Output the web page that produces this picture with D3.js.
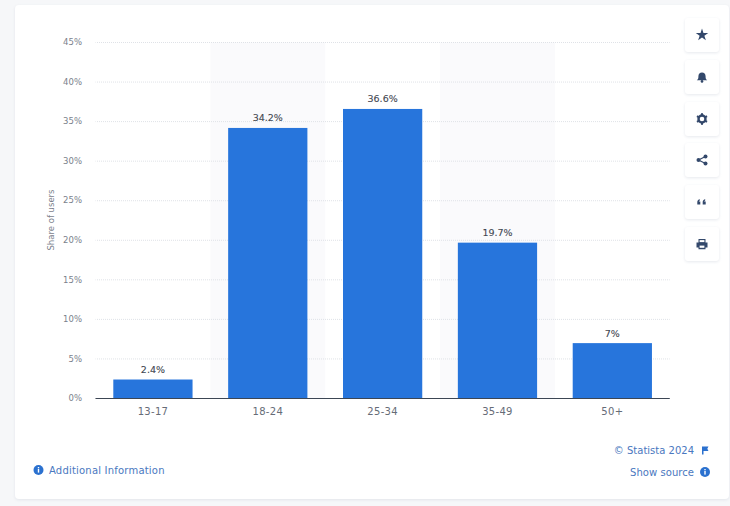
<!DOCTYPE html>
<html>
<head>
<meta charset="utf-8">
<script src="https://cdn.jsdelivr.net/npm/d3@7"></script>
<style>
    html, body { margin: 0; padding: 0; background: #f6f7f9; overflow: hidden; }
    svg { display: block; }
    text { font-family: 'DejaVu Sans', sans-serif; }
</style>
</head>
<body>
<svg id="chart" width="730" height="506"></svg>
<script>
const categories = ['13-17', '18-24', '25-34', '35-49', '50+'];
const shares = [2.4, 34.2, 36.6, 19.7, 7];
const shareLabels = ['2.4%', '34.2%', '36.6%', '19.7%', '7%'];
const yTicks = [0, 5, 10, 15, 20, 25, 30, 35, 40, 45];
const shadedCategories = ['18-24', '35-49'];

const PLOT_LEFT = 95.5;
const PLOT_RIGHT = 669.75;
const PLOT_TOP = 42.5;
const PLOT_BOTTOM = 398.5;
const BLUE = '#2775dc';
const LINK_BLUE = '#4a78c0';
const ICON_COLOR = '#33486b';

const svg = d3.select('#chart');

const x = d3.scaleBand().domain(categories).range([PLOT_LEFT, PLOT_RIGHT]).paddingInner(0.31).paddingOuter(0.155);
const y = d3.scaleLinear().domain([0, 45]).range([PLOT_BOTTOM, PLOT_TOP]);

// Soft shadow for the card and the side buttons
const shadow = svg.append('defs').append('filter')
    .attr('id', 'soft')
    .attr('x', '-20%').attr('y', '-20%')
    .attr('width', '140%').attr('height', '140%');
shadow.append('feDropShadow')
    .attr('dx', 0).attr('dy', 1)
    .attr('stdDeviation', 1.5)
    .attr('flood-color', '#c9ced8')
    .attr('flood-opacity', 0.45);

// Card behind the chart
svg.append('rect')
    .attr('x', 15).attr('y', 5)
    .attr('width', 714).attr('height', 494)
    .attr('rx', 4)
    .attr('fill', '#fff')
    .attr('filter', 'url(#soft)');

// Alternating column shading
const step = x.step();
svg.append('g')
    .selectAll('rect')
    .data(shadedCategories)
    .join('rect')
    .attr('x', (d) => x(d) + x.bandwidth() / 2 - step / 2)
    .attr('y', PLOT_TOP)
    .attr('width', step)
    .attr('height', PLOT_BOTTOM - PLOT_TOP)
    .attr('fill', '#fafafc');

// Y axis with dotted grid lines
const yAxis = svg.append('g')
    .attr('transform', `translate(${PLOT_LEFT},0)`)
    .call(d3.axisLeft(y).offset(0).tickValues(yTicks).tickFormat((d) => d + '%').tickSize(-(PLOT_RIGHT - PLOT_LEFT)).tickPadding(13.5));
yAxis.select('.domain').remove();
// The group sits on a half pixel, so the dash phase is shifted to keep the dots crisp
yAxis.selectAll('.tick line')
    .attr('stroke', '#dfe2e7')
    .attr('stroke-dasharray', '1 1')
    .attr('stroke-dashoffset', 0.5);
yAxis.selectAll('.tick text')
    .attr('fill', '#7b818c')
    .style('font-size', '8.5px')
    .style('font-family', "'DejaVu Sans', sans-serif");

svg.append('text')
    .attr('transform', 'translate(54,220) rotate(-90)')
    .attr('text-anchor', 'middle')
    .attr('fill', '#7b818c')
    .style('font-size', '8.5px')
    .text('Share of users');

// Bars
svg.append('g')
    .selectAll('rect')
    .data(categories)
    .join('rect')
    .attr('x', (d) => x(d))
    .attr('y', (d, i) => y(shares[i]))
    .attr('width', x.bandwidth())
    .attr('height', (d, i) => y(0) - y(shares[i]))
    .attr('fill', BLUE);

svg.append('g')
    .selectAll('text')
    .data(categories)
    .join('text')
    .attr('x', (d) => x(d) + x.bandwidth() / 2)
    .attr('y', (d, i) => y(shares[i]) - 6.5)
    .attr('text-anchor', 'middle')
    .attr('fill', '#3f4650')
    .attr('stroke', '#3f4650')
    .attr('stroke-width', 0.1)
    .style('font-size', '9.5px')
    .text((d, i) => shareLabels[i]);

// X axis
const xAxis = svg.append('g')
    .attr('transform', `translate(0,${PLOT_BOTTOM})`)
    .call(d3.axisBottom(x).offset(0).tickSize(0).tickPadding(9));
xAxis.select('.domain').attr('stroke', '#3c4654').attr('stroke-width', 1);
xAxis.selectAll('.tick text')
    .attr('fill', '#666c77')
    .style('font-size', '10px')
    .style('letter-spacing', '0.3px')
    .style('font-family', "'DejaVu Sans', sans-serif");

// Footer links
function infoDot(cx, cy) {
    svg.append('circle').attr('cx', cx).attr('cy', cy).attr('r', 5).attr('fill', '#2b71cf');
    svg.append('rect').attr('x', cx - 0.7).attr('y', cy - 1).attr('width', 1.4).attr('height', 3.6).attr('fill', '#fff');
    svg.append('rect').attr('x', cx - 0.7).attr('y', cy - 3).attr('width', 1.4).attr('height', 1.3).attr('fill', '#fff');
}

function footerText(xPos, yPos, anchor, label, spacing) {
    svg.append('text')
        .attr('x', xPos).attr('y', yPos)
        .attr('text-anchor', anchor)
        .attr('fill', LINK_BLUE)
        .style('font-size', '10px')
        .style('letter-spacing', spacing + 'px')
        .text(label);
}

infoDot(38.5, 470);
footerText(49, 474, 'start', 'Additional Information', 0.2);
footerText(694, 454, 'end', '© Statista 2024', 0);
footerText(694, 476, 'end', 'Show source', 0.05);
infoDot(705, 472);
svg.append('path')
    .attr('d', 'M702 446.5h6.5l-1.2 2.2 1.2 2.3h-5v3.5h-1.5z')
    .attr('fill', '#2b71cf');

// Side buttons
const buttonNames = ['star', 'bell', 'gear', 'share', 'quote', 'print'];
const buttonTops = [18, 60, 102, 143, 185, 227];

const icons = {
    star: (g) => g.append('path')
        .attr('d', d3.symbol(d3.symbolStar, 48)())
        .attr('fill', ICON_COLOR),
    bell: (g) => {
        g.append('path').attr('d', 'M-5.2 3.2c1.4-1 1.6-2.2 1.6-3.8 0-2.4 1.4-4 3.6-4s3.6 1.6 3.6 4c0 1.6.2 2.8 1.6 3.8z').attr('fill', ICON_COLOR);
        g.append('circle').attr('cy', 4.4).attr('r', 1.3).attr('fill', ICON_COLOR);
    },
    gear: (g) => {
        g.append('circle').attr('r', 3.5).attr('fill', 'none').attr('stroke', ICON_COLOR).attr('stroke-width', 2.4);
        d3.range(6).forEach((k) => {
            g.append('rect')
                .attr('x', -1).attr('y', -5.8)
                .attr('width', 2).attr('height', 2)
                .attr('transform', `rotate(${k * 60})`)
                .attr('fill', ICON_COLOR);
        });
    },
    share: (g) => {
        g.append('path').attr('d', 'M3.5-3.5L-3.5 0L3.5 3.5').attr('fill', 'none').attr('stroke', ICON_COLOR).attr('stroke-width', 1.2);
        [[3.5, -3.5], [-3.5, 0], [3.5, 3.5]].forEach(([cx, cy]) => {
            g.append('circle').attr('cx', cx).attr('cy', cy).attr('r', 2).attr('fill', ICON_COLOR);
        });
    },
    quote: (g) => {
        [-2.7, 2.7].forEach((cx) => {
            g.append('path').attr('d', `M${cx - 2} 2.5v-2.5c0-1.5 1-2.5 2.5-2.8v1.2c-.6.2-1 .6-1 1.1h1.5v3z`).attr('fill', ICON_COLOR);
        });
    },
    print: (g) => {
        g.append('path').attr('d', 'M-3.5-1.5v-3.5h7v3.5h2v5h-2v1.8h-7v-1.8h-2v-5z').attr('fill', ICON_COLOR);
        g.append('rect').attr('x', -2.4).attr('y', -3.9).attr('width', 4.8).attr('height', 2).attr('fill', '#fff');
        g.append('rect').attr('x', -2.4).attr('y', 1.6).attr('width', 4.8).attr('height', 2.2).attr('fill', '#fff');
    },
};

buttonNames.forEach((name, i) => {
    svg.append('rect')
        .attr('x', 685).attr('y', buttonTops[i])
        .attr('width', 34).attr('height', 34)
        .attr('rx', 3)
        .attr('fill', '#fff')
        .attr('filter', 'url(#soft)');
    const g = svg.append('g').attr('transform', `translate(702,${buttonTops[i] + 17})`);
    icons[name](g);
});
</script>
</body>
</html>
